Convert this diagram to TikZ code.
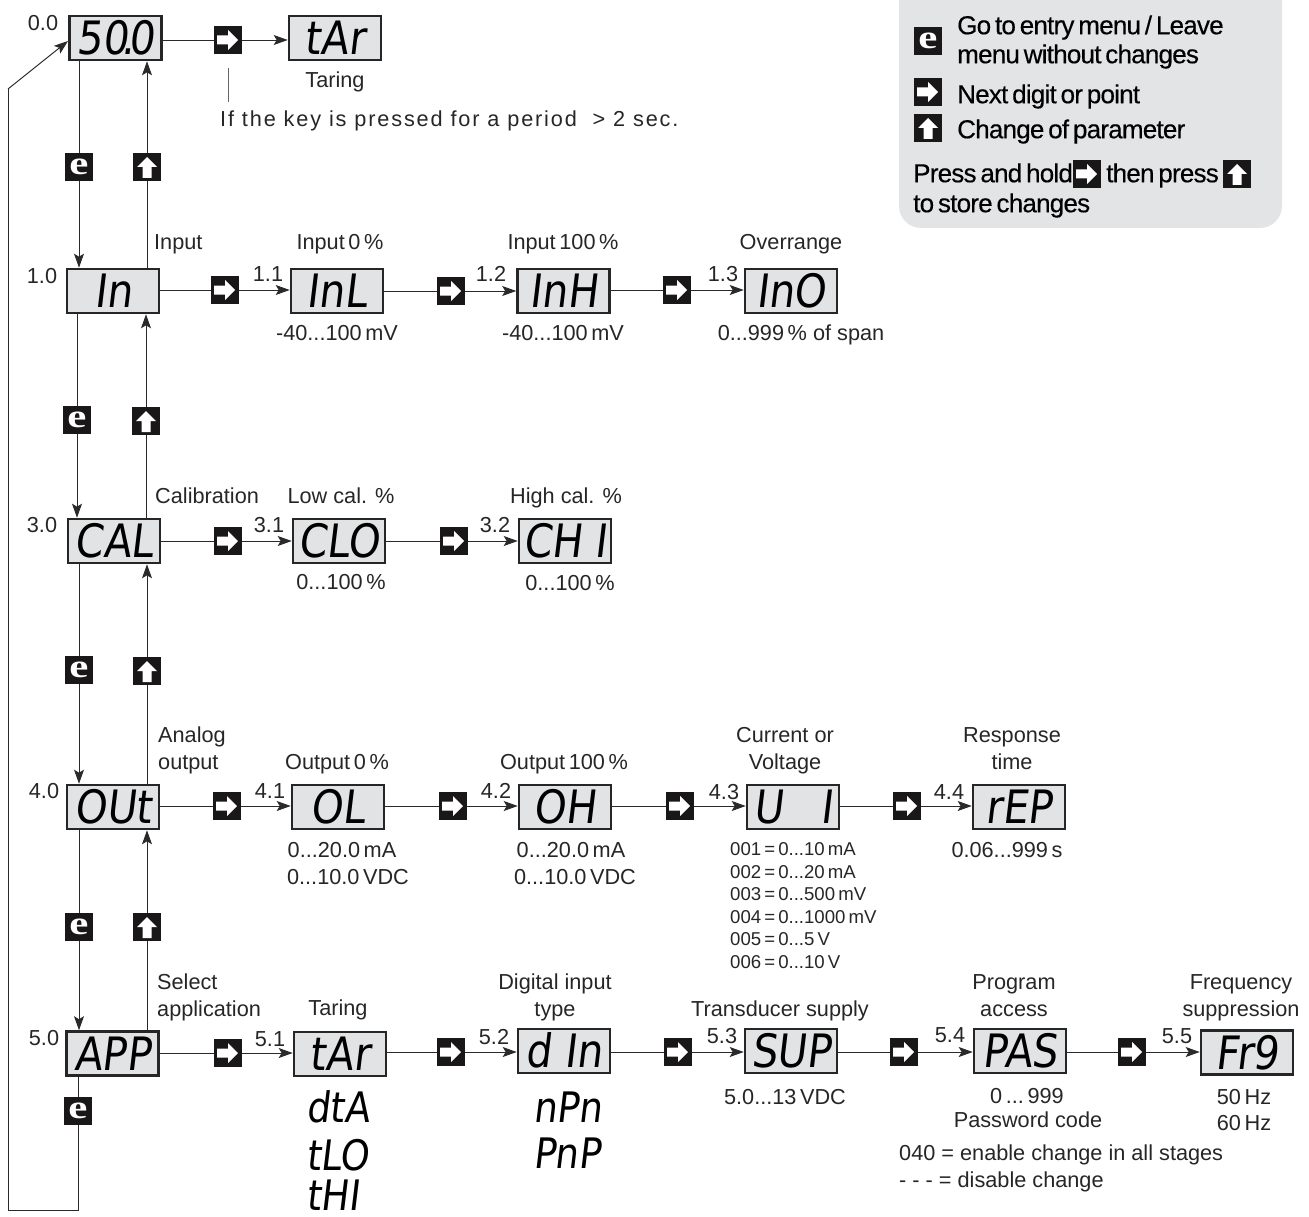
\documentclass[tikz,border=0pt]{standalone}
\usepackage{fontspec}
\usetikzlibrary{arrows.meta}
\setmainfont{Liberation Sans}
\newfontfamily\labf{Liberation Sans}
\newfontfamily\legf{Liberation Sans}[LetterSpace=-3,WordSpace=0.6,FakeBold=0.35]
\newfontfamily\spacedf{Liberation Sans}[LetterSpace=8.5]
\newfontfamily\segf{DejaVu Sans}[FakeSlant=0.12,FakeStretch=0.88]
\newfontfamily\keyf{Liberation Serif Bold}[FakeStretch=1.3]
\definecolor{lcd}{HTML}{E1E3E4}
\definecolor{legendgray}{HTML}{E3E4E6}
\definecolor{keyblack}{HTML}{1A1718}
\definecolor{linegray}{HTML}{2A2A2A}
\tikzset{
  x=1pt,y=-1pt,
  conn/.style={draw=linegray,line width=0.95pt},
  arr/.style={conn,-{Stealth[length=14pt,width=10pt,inset=3pt]}},
  lcdbox/.style={draw=black!85,fill=lcd,line width=2.6pt,minimum width=92pt,minimum height=44pt,inner sep=0pt,
    font=\segf\fontsize{46}{46}\selectfont,text height=33.5pt,text depth=0pt},
  lcdtext/.style={inner sep=0pt,anchor=west,font=\segf\fontsize{42}{42}\selectfont,text height=30.5pt,text depth=0pt},
  lab/.style={inner sep=0pt,font=\labf\fontsize{21.7}{24}\selectfont,text height=15.5pt,text depth=0pt,text=black!85},
  labl/.style={lab,anchor=west},
  small/.style={inner sep=0pt,anchor=west,font=\labf\fontsize{18.6}{20}\selectfont,text height=13.5pt,text depth=0pt,text=black!85},
  leg/.style={inner sep=0pt,anchor=west,font=\legf\fontsize{26}{28}\selectfont,text height=18.5pt,text depth=0pt,text=black},
  keybase/.style={fill=keyblack,minimum size=28pt,inner sep=0pt},
  keyR/.style={keybase,path picture={
    \fill[white] ([shift={(-11pt,-4.5pt)}]path picture bounding box.center) -- ++(11pt,0) -- ++(0,-5.5pt) -- ++(10pt,10pt) -- ++(-10pt,10pt) -- ++(0,-5.5pt) -- ++(-11pt,0) -- cycle;}},
  keyU/.style={keybase,path picture={
    \fill[white] ([shift={(-4.5pt,-11pt)}]path picture bounding box.center) -- ++(0,11pt) -- ++(-5.5pt,0) -- ++(10pt,10pt) -- ++(10pt,-10pt) -- ++(-5.5pt,0) -- ++(0,-11pt) -- cycle;}},
  keyE/.style={keybase,text=white,font=\keyf\fontsize{33}{33}\selectfont,text height=15pt,text depth=0pt},
}
\newcommand{\lcdpair}[3]{%
  \draw[conn] (#1 -| #2.east) -- (#1);
  \draw[arr] (#1) -- (#1 -| #3.west);
}
\newcommand{\vdown}[3]{%
  \draw[conn] (#1 |- #2.south) -- (#1);
  \draw[arr] (#1) -- (#1 |- #3.north);
}
\newcommand{\vup}[3]{%
  \draw[conn] (#1 |- #2.north) -- (#1);
  \draw[arr] (#1) -- (#1 |- #3.south);
}
\begin{document}
\begin{tikzpicture}
\useasboundingbox (0,0) rectangle (1309,1217);
% legend panel
\fill[legendgray] (899,0) [rounded corners=22pt] -- (899,228) -- (1282,228) [sharp corners] -- (1282,0) -- cycle;
\node[keyE] (lgE) at (928,41) {e};
\node[keyR] (lgR) at (928,92) {};
\node[keyU] (lgU) at (928,128) {};
\node[leg] (lg1) at (957,25) {Go to entry menu / Leave};
\node[leg] (lg2) at (957,54) {menu without changes};
\node[leg] (lg3) at (957,94) {Next digit or point};
\node[leg] (lg4) at (957,129) {Change of parameter};
\node[leg] (lg5) at (913,173) {Press and hold};
\node[keyR] (lgR2) at (1087,174) {};
\node[leg] (lg6) at (1106,173) {then press};
\node[keyU] (lgU2) at (1237,174) {};
\node[leg] (lg7) at (913,203) {to store changes};
% displays
\node[lcdbox] (d00) at (115.5,38) {50\kern-.14em.\kern-.14em 0};
\node[lcdbox] (dT) at (335,38) {tAr};
\node[lcdbox] (d10) at (113,291) {In};
\node[lcdbox] (d11) at (337,291) {InL};
\node[lcdbox] (d12) at (563.5,291) {InH};
\node[lcdbox] (d13) at (791,291) {InO};
\node[lcdbox] (d30) at (114,541) {CAL};
\node[lcdbox] (d31) at (339,541) {CLO};
\node[lcdbox] (d32) at (565,541) {CH I};
\node[lcdbox] (d40) at (113,807) {OUt};
\node[lcdbox] (d41) at (338,807) {OL};
\node[lcdbox] (d42) at (565,807) {OH};
\node[lcdbox] (d43) at (793,807) {U\hspace{.8em}I};
\node[lcdbox] (d44) at (1019,807) {rEP};
\node[lcdbox] (d50) at (112.5,1053.5) {APP};
\node[lcdbox] (d51) at (340,1054) {tAr};
\node[lcdbox] (d52) at (564,1051) {d In};
\node[lcdbox] (d53) at (791,1051) {SUP};
\node[lcdbox] (d54) at (1020,1051) {PAS};
\node[lcdbox] (d55) at (1247,1052.5) {Fr9};
\node[lcdtext] (o1) at (306,1107) {dtA};
\node[lcdtext] (o2) at (306,1155) {tLO};
\node[lcdtext] (o3) at (306,1195) {tHI};
\node[lcdtext] (o4) at (533,1107) {nPn};
\node[lcdtext] (o5) at (533,1153) {PnP};
% keys
\node[keyR] (k0) at (228,40) {};
\node[keyR] (k11) at (225,290) {};
\node[keyR] (k12) at (451,291) {};
\node[keyR] (k13) at (677,290) {};
\node[keyR] (k31) at (228,541) {};
\node[keyR] (k32) at (454,541) {};
\node[keyR] (k41) at (227,806) {};
\node[keyR] (k42) at (453,806) {};
\node[keyR] (k43) at (680,806) {};
\node[keyR] (k44) at (907,806) {};
\node[keyR] (k51) at (228,1053) {};
\node[keyR] (k52) at (451,1052) {};
\node[keyR] (k53) at (678,1052) {};
\node[keyR] (k54) at (904,1052) {};
\node[keyR] (k55) at (1132,1052) {};
\node[keyE] (e1) at (79,167) {e};
\node[keyE] (e2) at (77,420) {e};
\node[keyE] (e3) at (79,670) {e};
\node[keyE] (e4) at (79,927) {e};
\node[keyE] (e5) at (78,1111) {e};
\node[keyU] (u1) at (147,167) {};
\node[keyU] (u2) at (146,421) {};
\node[keyU] (u3) at (147,671) {};
\node[keyU] (u4) at (147,927) {};
% horizontal connectors
\lcdpair{k0}{d00}{dT}
\lcdpair{k11}{d10}{d11}
\lcdpair{k12}{d11}{d12}
\lcdpair{k13}{d12}{d13}
\lcdpair{k31}{d30}{d31}
\lcdpair{k32}{d31}{d32}
\lcdpair{k41}{d40}{d41}
\lcdpair{k42}{d41}{d42}
\lcdpair{k43}{d42}{d43}
\lcdpair{k44}{d43}{d44}
\lcdpair{k51}{d50}{d51}
\lcdpair{k52}{d51}{d52}
\lcdpair{k53}{d52}{d53}
\lcdpair{k54}{d53}{d54}
\lcdpair{k55}{d54}{d55}
% vertical connectors
\vdown{e1}{d00}{d10}
\vdown{e2}{d10}{d30}
\vdown{e3}{d30}{d40}
\vdown{e4}{d40}{d50}
\vup{u1}{d10}{d00}
\vup{u2}{d30}{d10}
\vup{u3}{d40}{d30}
\vup{u4}{d50}{d40}
% return loop
\coordinate (r1) at (78,1210);
\coordinate (r2) at (8,1210);
\coordinate (r3) at (8,89);
\coordinate (r4) at (68,41);
\draw[conn] (e5 |- d50.south) -- (e5);
\draw[conn] (e5) -- (r1) -- (r2) -- (r3);
\draw[arr] (r3) -- (r4);
% note tick
\coordinate (t1) at (228,68);
\coordinate (t2) at (228,102);
\draw[conn,draw=black!60] (t1) -- (t2);
% step numbers
\foreach \n/\x/\y/\t in {s00/43/23/0.0,s10/42/276/1.0,s30/42/525/3.0,s40/44/791/4.0,s50/44/1038/5.0,
  s11/268/274/1.1,s12/491/274/1.2,s13/723/274/1.3,s31/269/525/3.1,s32/495/525/3.2,
  s41/270/791/4.1,s42/496/791/4.2,s43/724/792/4.3,s44/949/792/4.4,
  s51/270/1039/5.1,s52/494/1037/5.2,s53/722/1036/5.3,s54/950/1035/5.4,s55/1177/1036/5.5}
  \node[lab] (\n) at (\x,\y) {\t};
% labels
\node[lab] (l1) at (335,80) {Taring};
\node[labl,font=\spacedf\fontsize{21.7}{24}\selectfont] (l2) at (220,119) {If the key is pressed for a period \ > 2 sec.};
\node[labl] (l3) at (154,242) {Input};
\node[lab] (l4) at (340,242) {Input\,0\,\%};
\node[lab] (l5) at (563,242) {Input\,100\,\%};
\node[lab] (l6) at (791,242) {Overrange};
\node[lab] (l7) at (337,333) {-40...100\,mV};
\node[lab] (l8) at (563,333) {-40...100\,mV};
\node[lab] (l9) at (801,333) {0...999\,\% of span};
\node[labl] (l10) at (155,496) {Calibration};
\node[lab] (l11) at (341,496) {Low cal. \%};
\node[lab] (l12) at (566,496) {High cal. \%};
\node[lab] (l13) at (341,582) {0...100\,\%};
\node[lab] (l14) at (570,583) {0...100\,\%};
\node[labl] (l15) at (158,735) {Analog};
\node[labl] (l16) at (158,762) {output};
\node[lab] (l17) at (337,762) {Output\,0\,\%};
\node[lab] (l18) at (564,762) {Output\,100\,\%};
\node[lab] (l19) at (785,735) {Current or};
\node[lab] (l20) at (785,762) {Voltage};
\node[lab] (l21) at (1012,735) {Response};
\node[lab] (l22) at (1012,762) {time};
\node[lab] (l23) at (342,850) {0...20.0\,mA};
\node[lab] (l24) at (348,877) {0...10.0\,VDC};
\node[lab] (l25) at (571,850) {0...20.0\,mA};
\node[lab] (l26) at (575,877) {0...10.0\,VDC};
\node[small] (c1) at (730,849) {001\,=\,0...10\,mA};
\node[small] (c2) at (730,872) {002\,=\,0...20\,mA};
\node[small] (c3) at (730,894) {003\,=\,0...500\,mV};
\node[small] (c4) at (730,917) {004\,=\,0...1000\,mV};
\node[small] (c5) at (730,939) {005\,=\,0...5\,V};
\node[small] (c6) at (730,962) {006\,=\,0...10\,V};
\node[lab] (l27) at (1007,850) {0.06...999\,s};
\node[labl] (l28) at (157,982) {Select};
\node[labl] (l29) at (157,1009) {application};
\node[lab] (l30) at (338,1008) {Taring};
\node[lab] (l31) at (555,982) {Digital input};
\node[lab] (l32) at (555,1009) {type};
\node[lab] (l33) at (780,1009) {Transducer supply};
\node[lab] (l34) at (1014,982) {Program};
\node[lab] (l35) at (1014,1009) {access};
\node[lab] (l36) at (1241,982) {Frequency};
\node[lab] (l37) at (1241,1009) {suppression};
\node[lab] (l38) at (785,1097) {5.0...13\,VDC};
\node[lab] (l39) at (1027,1096) {0\,...\,999};
\node[lab] (l40) at (1028,1120) {Password code};
\node[lab] (l41) at (1244,1097) {50\,Hz};
\node[lab] (l42) at (1244,1123) {60\,Hz};
\node[labl] (l43) at (899,1153) {040 = enable change in all stages};
\node[labl] (l44) at (899,1180) {- - - = disable change};
\end{tikzpicture}
\end{document}
